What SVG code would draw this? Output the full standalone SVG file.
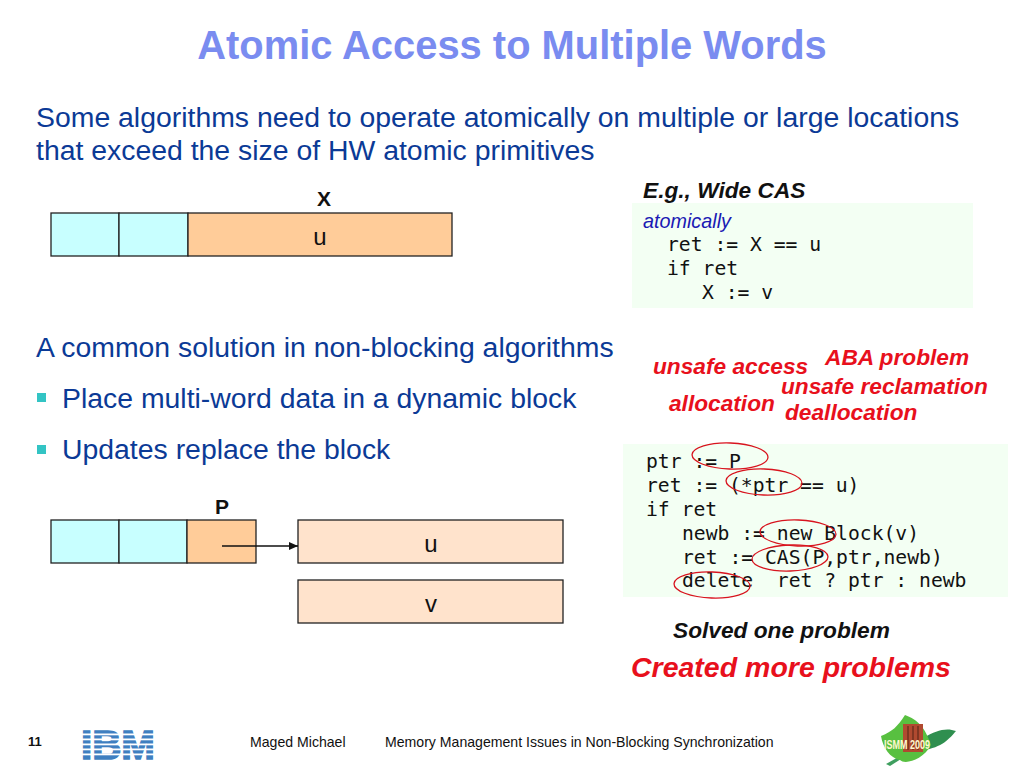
<svg xmlns="http://www.w3.org/2000/svg" width="1024" height="768" viewBox="0 0 1024 768">
<defs>
<marker id="arrow" markerUnits="userSpaceOnUse" markerWidth="10" markerHeight="10" refX="9" refY="4.5" orient="auto"><path d="M0,0.5 L9,4.5 L0,8.5 Z" fill="#111"/></marker>
</defs>
<style>
text{font-family:"Liberation Sans",Arial,sans-serif}
.title{font-size:39.9px;font-weight:700;fill:#7a8cf0}
.body{font-size:28.4px;fill:#0b3a96}
.code{font-family:"DejaVu Sans Mono",monospace;font-size:19.7px;fill:#111;white-space:pre}
.red{font-size:22.7px;font-weight:700;font-style:italic;fill:#e8101c}
.cell{stroke:#222;stroke-width:1.3}
.cy{fill:#c8ffff}.or{fill:#ffcc99}.pe{fill:#ffe3cc}
.box{fill:#f3fff3}
.lab{font-size:24px;fill:#111;text-anchor:middle}
.bl{font-size:21px;font-weight:700;fill:#111;text-anchor:middle}
.oval{fill:none;stroke:#d8141e;stroke-width:1.3}
.foot{font-size:14.1px;fill:#111}
</style>
<rect width="1024" height="768" fill="#fff"/>
<text class="title" x="512" y="59" text-anchor="middle">Atomic Access to Multiple Words</text>
<text class="body" x="36" y="127">Some algorithms need to operate atomically on multiple or large locations</text>
<text class="body" x="36" y="160">that exceed the size of HW atomic primitives</text>
<text class="body" x="36" y="357">A common solution in non-blocking algorithms</text>
<rect x="37" y="393" width="9" height="9" fill="#33c4c4"/>
<text class="body" x="62" y="408">Place multi-word data in a dynamic block</text>
<rect x="37" y="445" width="9" height="9" fill="#33c4c4"/>
<text class="body" x="62" y="459">Updates replace the block</text>

<g id="block-x">
<rect class="cell cy" x="51" y="213" width="68" height="43"/>
<rect class="cell cy" x="119" y="213" width="69" height="43"/>
<rect class="cell or" x="188" y="213" width="264" height="43"/>
<text class="lab" x="320" y="245">u</text>
<text class="bl" x="324" y="206">X</text>
</g>
<g id="block-p">
<rect class="cell cy" x="51" y="520" width="68" height="43"/>
<rect class="cell cy" x="119" y="520" width="68" height="43"/>
<rect class="cell or" x="187" y="520" width="69" height="43"/>
<text class="bl" x="222" y="514">P</text>
</g>
<g id="block-u">
<rect class="cell pe" x="298" y="520" width="265" height="43"/>
<text class="lab" x="431" y="552">u</text>
</g>
<g id="block-v">
<rect class="cell pe" x="298" y="580" width="265" height="43"/>
<text class="lab" x="431" y="612">v</text>
</g>
<g id="connectors">
<line x1="222" y1="546" x2="298" y2="546" stroke="#111" stroke-width="1.3" marker-end="url(#arrow)"/>
</g>

<g id="wide-cas">
<text x="643" y="198" font-size="22.7px" font-weight="700" font-style="italic" fill="#111">E.g., Wide CAS</text>
<rect class="box" x="632" y="203" width="341" height="105"/>
<text x="643" y="228" font-size="19.8px" font-style="italic" fill="#1a1ab4">atomically</text>
<text class="code" x="667" y="251">ret := X == u</text>
<text class="code" x="667" y="275">if ret</text>
<text class="code" x="702" y="299">X := v</text>
</g>

<g id="problems">
<text class="red" x="653" y="374">unsafe access</text>
<text class="red" x="825" y="365">ABA problem</text>
<text class="red" x="781" y="394">unsafe reclamation</text>
<text class="red" x="669" y="411">allocation</text>
<text class="red" x="785" y="420">deallocation</text>
</g>

<g id="code">
<rect class="box" x="623" y="444" width="385" height="153"/>
<text class="code" x="646" y="468">ptr := P</text>
<text class="code" x="646" y="492">ret := (*ptr == u)</text>
<text class="code" x="646" y="516">if ret</text>
<text class="code" x="682" y="540">newb := new Block(v)</text>
<text class="code" x="682" y="564">ret := CAS(P,ptr,newb)</text>
<text class="code" x="682" y="587">delete  ret ? ptr : newb</text>
<ellipse class="oval" cx="730" cy="456" rx="38" ry="13" transform="rotate(2 730 456)"/>
<ellipse class="oval" cx="764" cy="482" rx="38" ry="13" transform="rotate(2 764 482)"/>
<ellipse class="oval" cx="798" cy="533" rx="38" ry="13" transform="rotate(2 798 533)"/>
<ellipse class="oval" cx="790" cy="558" rx="38" ry="13" transform="rotate(-2 790 558)"/>
<ellipse class="oval" cx="712" cy="585" rx="38" ry="13" transform="rotate(2 712 585)"/>
</g>
<text x="673" y="638" font-size="22.7px" font-weight="700" font-style="italic" fill="#111">Solved one problem</text>
<text x="631" y="677" font-size="28.5px" font-weight="700" font-style="italic" fill="#e8101c">Created more problems</text>

<text x="28" y="746" font-size="13px" font-weight="700" fill="#111">11</text>
<g id="ibm-logo">
<text x="81" y="759" font-family="'Liberation Serif',serif" font-size="41px" font-weight="700" fill="#3f7fc0" stroke="#3f7fc0" stroke-width="1.6" textLength="74" lengthAdjust="spacingAndGlyphs">IBM</text>
<g fill="#fff"><rect x="78" y="733.5" width="82" height="1.8"/><rect x="78" y="738.5" width="82" height="1.8"/><rect x="78" y="743.5" width="82" height="1.8"/><rect x="78" y="748.5" width="82" height="1.8"/><rect x="78" y="753.5" width="82" height="1.8"/></g>
</g>
<text class="foot" x="250" y="747">Maged Michael</text>
<text class="foot" x="385" y="747">Memory Management Issues in Non-Blocking Synchronization</text>
<g id="ismm-logo">
<path d="M923,750 C942,748 950,738 956,731 C946,727 935,731 925,737 Z" fill="#2f8f4f"/>
<path d="M886,764 L902,755 L901,759 L890,766 Z" fill="#3f9f5f"/>
<path d="M881,736 C893,731 897,727 905,715 C918,720 925,727 931,745 C923,760 905,765 900,760 C890,758 883,748 881,736 Z" fill="#58c040"/>
<rect x="903" y="724" width="20" height="28" fill="#b04a30"/>
<path d="M908,726 V750 M913,726 V750 M918,726 V750" stroke="#70301e" stroke-width="1.5"/>
<text x="884" y="749" font-size="12.5px" font-weight="700" fill="#fff8d0" textLength="46" lengthAdjust="spacingAndGlyphs">ISMM 2009</text>
</g>
</svg>
